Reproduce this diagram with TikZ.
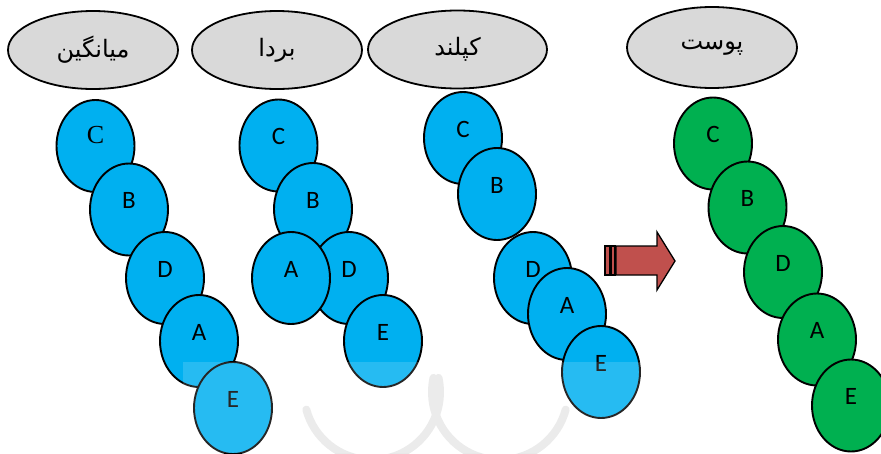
\documentclass[tikz,border=0pt]{standalone}
\usepackage{fontspec}
\usetikzlibrary{shapes.geometric}
\TeXXeTstate=1
\newfontfamily\arabicfont[Script=Arabic]{DejaVu Sans}
\newfontfamily\letterfont{Carlito}
\newfontfamily\serifletter{Liberation Serif}
\definecolor{ballblue}{RGB}{0,176,240}
\definecolor{ballgreen}{RGB}{0,176,80}
\definecolor{headgrey}{RGB}{217,217,217}
\definecolor{arrowred}{RGB}{192,80,77}
\definecolor{markgrey}{RGB}{232,232,232}

% one bead: style, name, position, letter
\newcommand\putbead[4]{%
  \node[#1] (#2) at (#3) {};
  \node[lbl] (#2t) at ([yshift=9pt]#2.center) {#4};}

\tikzset{
  head/.style={ellipse, draw, line width=1.8pt, fill=headgrey,
    minimum width=170pt, minimum height=78pt, inner sep=0pt,
    font=\arabicfont\fontsize{24}{26}\selectfont},
  ball/.style={ellipse, draw, line width=1.9pt,
    minimum width=78pt, minimum height=92pt, inner sep=0pt},
  blueball/.style={ball, fill=ballblue},
  greenball/.style={ball, fill=ballgreen},
  lbl/.style={inner sep=0pt, font=\letterfont\fontsize{25}{25}\selectfont},
}

\begin{document}
\begin{tikzpicture}[x=1pt,y=-1pt]
\useasboundingbox (0,0) rectangle (881,453);

% faint logo arcs in the background
\draw[markgrey, line width=8pt, line cap=round]
  plot[domain=-12:165, samples=40] ({372+68*cos(\x)},{392+68*sin(\x)});
\draw[markgrey, line width=8pt, line cap=round]
  plot[domain=15:192, samples=40] ({500+68*cos(\x)},{392+68*sin(\x)});

% column headers
\node[head] (h1) at (93,50) {\beginR میانگین\endR};
\node[head] (h2) at (277,50) {\beginR بردا\endR};
\node[head, minimum width=179pt] (h3) at (457.5,49.5) {\beginR کپلند\endR};
\node[head, minimum height=81pt] (h4) at (712,47.5) {\beginR پوست\endR};

% chain under the first header
\node[blueball] (a1) at (95.5,146) {};
\node[lbl, font=\serifletter\fontsize{26}{26}\selectfont] (a1t) at ([yshift=11pt]a1.center) {C};
\putbead{blueball}{a2}{129,209.5}{B}
\putbead{blueball}{a3}{165,278}{D}
\putbead{blueball}{a4}{199,341}{A}
\putbead{blueball}{a5}{233,408}{E}

% chain under the second header
\putbead{blueball}{b1}{278.5,145.5}{C}
\putbead{blueball}{b2}{313,209}{B}
\putbead{blueball}{b3}{349,278}{D}
\putbead{blueball}{b4}{291,278}{A}
\putbead{blueball}{b5}{383,341}{E}

% chain under the third header
\putbead{blueball}{c1}{463,138}{C}
\putbead{blueball}{c2}{497,194}{B}
\putbead{blueball}{c3}{533,278}{D}
\putbead{blueball}{c4}{567,314}{A}
\putbead{blueball}{c5}{601,372}{E}

% striped block arrow
\draw[fill=arrowred, line width=1.3pt] (605,246) rectangle (610,275);
\draw[fill=arrowred, line width=1.3pt] (611,246) rectangle (615,275);
\draw[fill=arrowred, line width=1.3pt, line join=miter]
  (616,246) -- (657,246) -- (657,232) -- (675,261) -- (657,290)
  -- (657,275) -- (616,275) -- cycle;

% resulting chain
\putbead{greenball}{d1}{713,143.5}{C}
\putbead{greenball}{d2}{747.5,207.5}{B}
\putbead{greenball}{d3}{783,272}{D}
\putbead{greenball}{d4}{817,339.5}{A}
\putbead{greenball}{d5}{851,405.5}{E}

% light veil over the lower band
\fill[white, opacity=0.15] (183,362) rectangle (645,453);
\end{tikzpicture}
\end{document}
